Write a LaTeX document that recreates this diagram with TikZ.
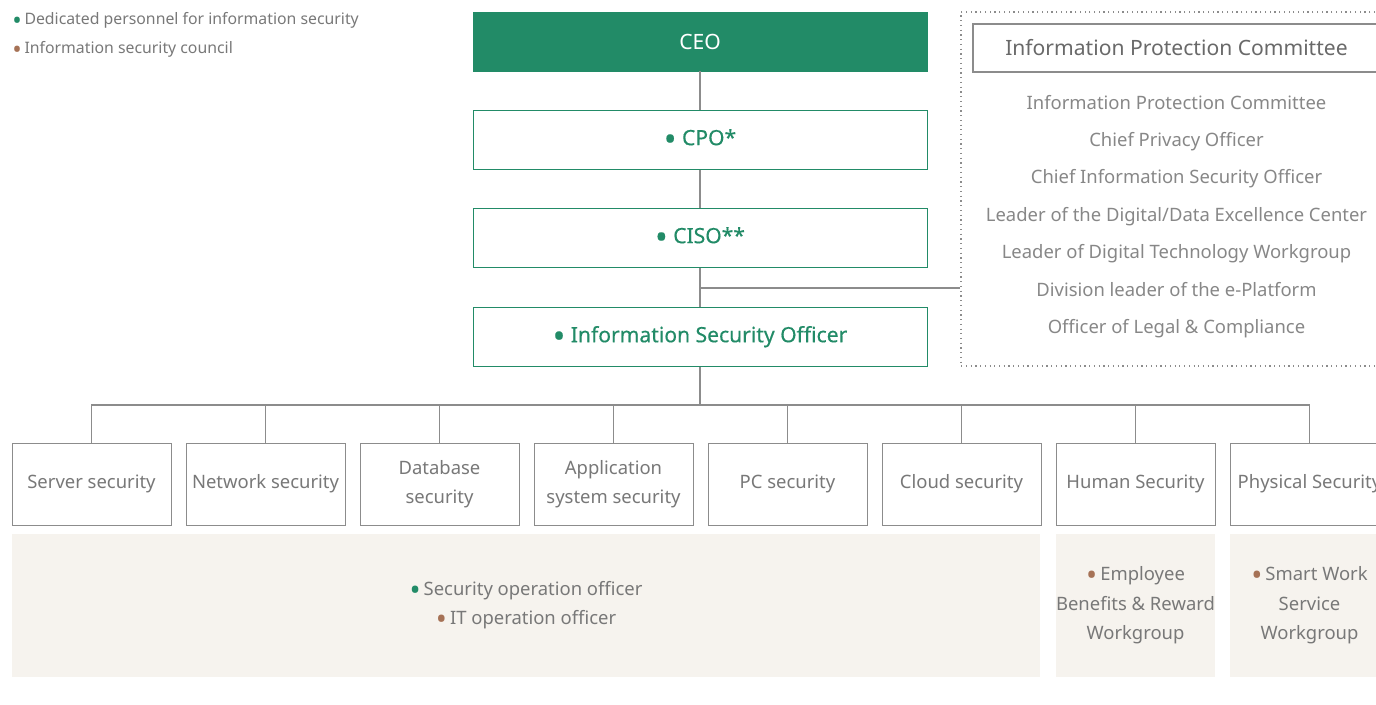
\documentclass[tikz,border=0pt]{standalone}
\usepackage{fontspec}
\setmainfont{Noto Sans}
\newfontfamily\leadfont[FakeBold=0.4]{Noto Sans}
\usetikzlibrary{positioning}

\definecolor{secgreen}{RGB}{34,139,103}
\definecolor{dotbrown}{RGB}{166,114,86}
\definecolor{txtgray}{RGB}{120,120,120}
\definecolor{linegray}{RGB}{140,140,140}
\definecolor{beige}{RGB}{246,243,238}

\newcommand{\bigdot}{\raisebox{-0.5ex}{\scalebox{1.6}{\textbullet}}}
\newcommand{\gdot}{{\color{secgreen}\bigdot}\,}
\newcommand{\bdot}{{\color{dotbrown}\bigdot}\,}

\tikzset{
  lead/.style={draw=secgreen, fill=white, text=secgreen, minimum width=9.08cm,
    minimum height=1.18cm, inner sep=0pt, font=\leadfont\fontsize{12}{14}\selectfont},
  unit/.style={draw=linegray, fill=white, text=txtgray, minimum width=3.18cm,
    minimum height=1.64cm, inner sep=0pt, align=center,
    font=\fontsize{10.5}{16.5}\selectfont},
  band/.style={fill=beige, text=txtgray, inner sep=0pt, align=center,
    font=\fontsize{10.5}{16.7}\selectfont},
  link/.style={draw=linegray, line width=0.6pt}
}

\begin{document}
\begin{tikzpicture}[x=0.02cm, y=-0.02cm]
\useasboundingbox (0,0) rectangle (1376,705);
\clip (0,0) rectangle (1376,705);

% Legend
\node[anchor=west, text=txtgray, inner sep=0pt, font=\fontsize{9}{11}\selectfont] (lg1) at (12,21) {\gdot Dedicated personnel for information security};
\node[anchor=west, text=txtgray, inner sep=0pt, font=\fontsize{9}{11}\selectfont] (lg2) at (12,50) {\bdot Information security council};

% Main line
\node[lead, fill=secgreen, text=white, font=\fontsize{12}{14}\selectfont] (ceo) at (700,41.5) {CEO};
\node[lead] (cpo) at (700,140) {\bigdot\ CPO*};
\node[lead] (ciso) at (700,238) {\bigdot\ CISO**};
\node[lead] (iso) at (700,337) {\bigdot\ Information Security Officer};

\draw[link] (ceo) -- (cpo);
\draw[link] (cpo) -- (ciso);
\draw[link] (ciso) -- (iso);

% Information Protection Committee
\node[draw=linegray, dotted, line width=0.7pt, minimum width=8.62cm, minimum height=7.08cm, inner sep=0pt] (ipc) at (1176.5,189) {};
\node[draw=linegray, line width=0.7pt, minimum width=8.14cm, minimum height=0.96cm, inner sep=0pt, text={rgb,255:red,105;green,105;blue,105}, font=\fontsize{12}{14}\selectfont] (ipct) at (1176.5,48) {Information Protection Committee};
\node[text={rgb,255:red,135;green,135;blue,135}, align=center, inner sep=0pt, font=\fontsize{10.5}{21.3}\selectfont] (ipcl) at (1176.5,216.5) {Information Protection Committee\\ Chief Privacy Officer\\ Chief Information Security Officer\\ Leader of the Digital/Data Excellence Center\\ Leader of Digital Technology Workgroup\\ Division leader of the e-Platform\\ Officer of Legal \& Compliance};

\coordinate (j) at (700,288);
\draw[link] (j) -- (j -| ipc.west);

% Security areas
\node[unit] (u1) at (91.5,484) {Server security};
\node[unit] (u2) at (265.5,484) {Network security};
\node[unit] (u3) at (439.5,484) {Database\\ security};
\node[unit] (u4) at (613.5,484) {Application\\ system security};
\node[unit] (u5) at (787.5,484) {PC security};
\node[unit] (u6) at (961.5,484) {Cloud security};
\node[unit] (u7) at (1135.5,484) {Human Security};
\node[unit] (u8) at (1309.5,484) {Physical Security};

\coordinate (bus) at (700,405);
\draw[link] (iso) -- (bus);
\foreach \u in {u1,u2,u3,u4,u5,u6,u7,u8}
  \draw[link] (\u.north) |- (bus);

% Officers
\node[band, minimum width=20.56cm, minimum height=2.88cm] (b1) at (526,605.5) {\gdot Security operation officer\\ \bdot IT operation officer};
\node[band, minimum width=3.18cm, minimum height=2.88cm, font=\fontsize{10.5}{16.8}\selectfont] (b2) at (1135.5,605.5) {\bdot Employee\\ Benefits \& Reward\\ Workgroup};
\node[band, minimum width=3.18cm, minimum height=2.88cm, font=\fontsize{10.5}{16.8}\selectfont] (b3) at (1309.5,605.5) {\bdot Smart Work\\ Service\\ Workgroup};

\end{tikzpicture}
\end{document}
